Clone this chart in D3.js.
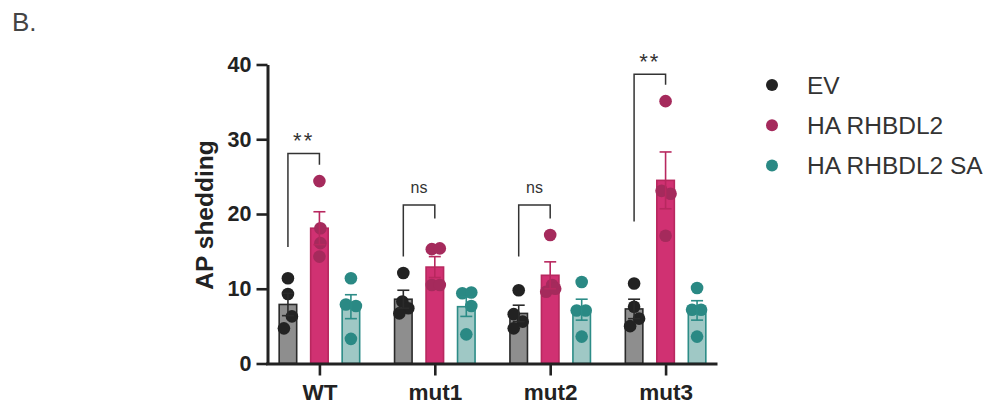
<!DOCTYPE html>
<html>
<head>
<meta charset="utf-8">
<script src="https://cdn.jsdelivr.net/npm/d3@7"></script>
<style>
  html, body { margin: 0; padding: 0; background: #fff; }
  svg { display: block; font-family: "Liberation Sans", Arial, Helvetica, sans-serif; }
</style>
</head>
<body>
<svg id="chart" width="990" height="410"></svg>
<script>
// ---- data ----
const groups = ["WT", "mut1", "mut2", "mut3"];
const seriesNames = ["EV", "HA RHBDL2", "HA RHBDL2 SA"];

// bar heights (mean) and SEM per group
const evMean = [7.9, 8.6, 6.7, 7.3];
const evSem = [1.5, 1.2, 1.1, 1.3];
const haMean = [18.1, 12.9, 11.8, 24.5];
const haSem = [2.2, 1.4, 1.8, 3.8];
const saMean = [7.6, 7.6, 7.2, 7.1];
const saSem = [1.6, 1.3, 1.4, 1.3];

// individual replicates per group
const evPoints = [[11.4, 9.3, 6.3, 4.7], [12.1, 8.3, 7.4, 6.7], [9.8, 6.6, 5.6, 4.7], [10.7, 7.6, 6.0, 5.0]];
const haPoints = [[24.4, 18.1, 16.1, 14.3], [15.3, 15.4, 10.5, 10.5], [17.2, 10.5, 9.6, 10.0], [35.1, 23.1, 22.7, 17.1]];
const saPoints = [[11.4, 7.9, 7.7, 3.3], [9.4, 9.5, 7.7, 3.9], [10.9, 7.1, 7.1, 3.6], [10.1, 7.2, 7.2, 3.6]];

// significance comparisons EV vs HA RHBDL2
const sigLabels = ["**", "ns", "ns", "**"];
const bracketTop = [28.1, 21.2, 21.2, 38.7];
const bracketLeftEnd = [15.6, 14.3, 14.3, 19.0];
const bracketRightEnd = [26.6, 19.4, 19.4, 37.3];

const yTicks = [0, 10, 20, 30, 40];

// ---- layout / styles ----
const colors = {
  "EV": { fill: "#8e8e8e", stroke: "#2a2a2a", dot: "#222222" },
  "HA RHBDL2": { fill: "#d03172", stroke: "#b8285f", dot: "#a52a5c" },
  "HA RHBDL2 SA": { fill: "#9fc8c5", stroke: "#2c8c87", dot: "#2a8984" }
};
// horizontal scatter of replicate dots, in px from the bar centre
const jitter = {
  "EV": [[0, 0, 4, -4], [0, -1, 5, -4], [0, -5, 4, -5], [0, 0, 5, -4]],
  "HA RHBDL2": [[0, 1, 1, 0], [-3, 5, -3, 5], [0, 2, -4, 5], [0, -4, 5, 0]],
  "HA RHBDL2 SA": [[0, -5, 5, 0], [-4, 5, 5, 0], [0, -5, 4, 0], [0, -5, 4, 0]]
};

const seriesData = {
  "EV": { mean: evMean, sem: evSem, pts: evPoints },
  "HA RHBDL2": { mean: haMean, sem: haSem, pts: haPoints },
  "HA RHBDL2 SA": { mean: saMean, sem: saSem, pts: saPoints }
};

const svg = d3.select("#chart");
const x0 = 267.5, x1 = 717.5, yTop = 64.5, yBottom = 363.5;

const x = d3.scalePoint().domain(groups).range([x0, x1]).padding(0.45);
const xs = d3.scaleBand().domain(seriesNames).range([-41.25, 41.25]).paddingInner(0.38).paddingOuter(0);
const y = d3.scaleLinear().domain([0, 40]).range([yBottom, yTop]);

const barCenter = (g, s) => x(g) + xs(s) + xs.bandwidth() / 2;

// ---- panel letter ----
svg.append("text").attr("x", 12).attr("y", 31)
  .attr("font-size", 26).attr("fill", "#444").text("B.");

// ---- bars, error bars, dots ----
const plot = svg.append("g");
seriesNames.forEach(s => {
  const d = seriesData[s], c = colors[s];
  const gS = plot.append("g");
  groups.forEach((g, i) => {
    const cx = barCenter(g, s);
    const bw = xs.bandwidth() - 2;
    gS.append("rect")
      .attr("x", cx - bw / 2).attr("width", bw)
      .attr("y", y(d.mean[i])).attr("height", y(0) - y(d.mean[i]))
      .attr("fill", c.fill).attr("stroke", c.stroke).attr("stroke-width", 1.6);
  });
});
seriesNames.forEach(s => {
  const d = seriesData[s], c = colors[s];
  groups.forEach((g, i) => {
    const cx = barCenter(g, s);
    d.pts[i].forEach((v, k) => {
      plot.append("circle")
        .attr("cx", cx + jitter[s][i][k]).attr("cy", y(v)).attr("r", 6.3)
        .attr("fill", c.dot);
    });
  });
});
seriesNames.forEach(s => {
  const d = seriesData[s], c = colors[s];
  groups.forEach((g, i) => {
    const cx = barCenter(g, s);
    const hi = d.mean[i] + d.sem[i], lo = d.mean[i] - d.sem[i];
    const e = plot.append("g").attr("stroke", c.stroke).attr("stroke-width", 1.6).attr("fill", "none");
    e.append("line").attr("x1", cx).attr("x2", cx).attr("y1", y(hi)).attr("y2", y(lo));
    e.append("line").attr("x1", cx - 6).attr("x2", cx + 6).attr("y1", y(hi)).attr("y2", y(hi));
    e.append("line").attr("x1", cx - 6).attr("x2", cx + 6).attr("y1", y(lo)).attr("y2", y(lo));
  });
});

// ---- axes ----
const yAxis = svg.append("g").attr("transform", `translate(${x0},0)`)
  .call(d3.axisLeft(y).tickValues(yTicks).tickSize(11).tickSizeOuter(0).tickPadding(5));
yAxis.select(".domain").attr("stroke", "#222").attr("stroke-width", 3);
yAxis.selectAll(".tick line").attr("stroke", "#222").attr("stroke-width", 2.6);
yAxis.selectAll(".tick text").attr("font-size", 21.5).attr("font-weight", "bold")
  .attr("fill", "#222").attr("font-family", "'Liberation Sans', Arial, sans-serif");

const xAxis = svg.append("g").attr("transform", `translate(0,${yBottom})`)
  .call(d3.axisBottom(x).tickSize(12).tickSizeOuter(0).tickPadding(9));
xAxis.select(".domain").attr("stroke", "#222").attr("stroke-width", 3)
  .attr("d", `M${x0 - 1.5},0.5H${x1}`);
xAxis.selectAll(".tick line").attr("stroke", "#222").attr("stroke-width", 2.6);
xAxis.selectAll(".tick text").attr("font-size", 22.5).attr("font-weight", "bold")
  .attr("fill", "#222").attr("font-family", "'Liberation Sans', Arial, sans-serif");

svg.append("text")
  .attr("transform", `translate(213,${(yTop + yBottom) / 2 + 1}) rotate(-90)`)
  .attr("text-anchor", "middle")
  .attr("font-size", 24.5).attr("font-weight", "bold").attr("fill", "#222")
  .text("AP shedding");

// ---- significance brackets ----
groups.forEach((g, i) => {
  const lx = barCenter(g, "EV"), rx = barCenter(g, "HA RHBDL2");
  svg.append("path")
    .attr("d", `M${lx},${y(bracketLeftEnd[i])}V${y(bracketTop[i])}H${rx}V${y(bracketRightEnd[i])}`)
    .attr("fill", "none").attr("stroke", "#333").attr("stroke-width", 1.5);
  const isNs = sigLabels[i] === "ns";
  svg.append("text")
    .attr("x", (lx + rx) / 2)
    .attr("y", y(bracketTop[i]) - (isNs ? 12 : 5))
    .attr("text-anchor", "middle")
    .attr("font-size", isNs ? 16 : 22)
    .attr("letter-spacing", isNs ? 0 : 2)
    .attr("fill", "#333")
    .text(sigLabels[i]);
});

// ---- legend ----
const legend = svg.append("g").attr("transform", "translate(772,85)");
seriesNames.forEach((s, i) => {
  const row = legend.append("g").attr("transform", `translate(0,${i * 40.3})`);
  row.append("circle").attr("r", 6).attr("fill", colors[s].dot);
  row.append("text").attr("x", 35).attr("dy", "0.35em")
    .attr("font-size", 24.5).attr("fill", "#333").text(s);
});
</script>
</body>
</html>
